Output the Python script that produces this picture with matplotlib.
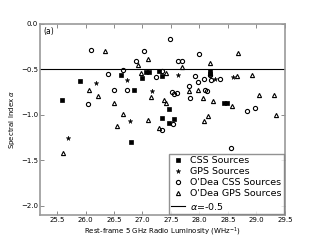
import matplotlib
matplotlib.use("Agg")
import matplotlib.pyplot as plt

# CSS Sources (filled squares)
css_x = [25.59, 25.90, 26.63, 26.85, 27.00, 27.06, 27.12, 27.29, 27.34, 27.46,
         27.34, 27.55, 27.47, 26.80, 28.18, 28.18, 28.43, 28.48]
css_y = [-0.835, -0.63, -0.56, -0.725, -0.59, -0.53, -0.53, -0.52, -0.57, -0.93,
         -1.03, -1.04, -1.09, -1.30, -0.52, -0.545, -0.865, -0.865]

# GPS Sources (stars)
gps_x = [26.18, 26.72, 27.17, 27.63, 28.28, 28.59, 26.78, 25.69]
gps_y = [-0.645, -0.615, -0.74, -0.56, -0.61, -0.58, -1.07, -1.25]

# O'Dea CSS Sources (open circles)
ocss_x = [26.09, 27.03, 27.49, 28.00, 26.88, 27.63, 27.70, 26.65, 26.40, 27.24,
          27.35, 27.93, 28.08, 28.20, 28.36, 27.98, 27.82, 27.51, 27.55, 27.60,
          27.84, 28.10, 28.14, 28.84, 28.97, 27.54, 27.34, 26.04, 26.50, 26.72,
          28.55, 28.18]
ocss_y = [-0.29, -0.30, -0.16, -0.33, -0.41, -0.41, -0.41, -0.51, -0.55, -0.58,
          -0.52, -0.57, -0.60, -0.62, -0.60, -0.64, -0.68, -0.75, -0.77, -0.76,
          -0.81, -0.73, -0.74, -0.96, -0.92, -1.10, -1.17, -0.88, -0.725, -0.725,
          -1.36, -0.565]

# O'Dea GPS Sources (open triangles)
ogps_x = [26.34, 27.10, 28.18, 27.70, 26.93, 26.98, 27.41, 28.66, 28.93, 28.67,
          27.82, 27.98, 28.06, 27.15, 27.38, 27.42, 28.24, 28.58, 29.05, 29.31,
          29.34, 27.10, 28.15, 28.08, 27.29, 26.06, 26.22, 26.50, 26.66, 26.55,
          25.60]
ogps_y = [-0.30, -0.385, -0.425, -0.47, -0.45, -0.535, -0.54, -0.57, -0.56, -0.315,
          -0.74, -0.73, -0.81, -0.80, -0.83, -0.865, -0.85, -0.90, -0.78, -0.78,
          -1.00, -1.05, -1.01, -1.07, -1.14, -0.725, -0.79, -0.87, -0.99, -1.12,
          -1.42]

alpha_line = -0.5
x_ticks = [25.5, 26.0, 26.5, 27.0, 27.5, 28.0, 28.5, 29.0, 29.5]
y_ticks = [0.0, -0.5, -1.0, -1.5, -2.0]

fig = plt.figure(figsize=(3.2, 2.4), dpi=100)
ax = fig.add_axes([0.125, 0.104, 0.765, 0.796])

ms = 3.0
ax.plot(css_x, css_y, 's', color='black', markersize=ms, markeredgewidth=0.5,
        label='CSS Sources')
ax.plot(gps_x, gps_y, '*', color='black', markersize=ms + 0.5, markeredgewidth=0.3,
        label='GPS Sources')
ax.plot(ocss_x, ocss_y, 'o', markerfacecolor='none', markeredgecolor='black',
        markersize=ms, markeredgewidth=0.8, label="O'Dea CSS Sources")
ax.plot(ogps_x, ogps_y, '^', markerfacecolor='none', markeredgecolor='black',
        markersize=ms, markeredgewidth=0.8, label="O'Dea GPS Sources")
ax.axhline(alpha_line, color='black', linewidth=0.8, label=r'$\alpha$=-0.5')

ax.set_xlim(25.2, 29.5)
ax.set_ylim(-2.1, 0.0)
ax.set_xticks(x_ticks)
ax.set_yticks(y_ticks)
ax.set_xticklabels(['%.1f' % v for v in x_ticks])
ax.set_yticklabels([('%.1f' % v).replace('-', '\u2212') for v in y_ticks])

for s in ax.spines.values():
    s.set_color('#999999')
    s.set_linewidth(1.2)
ax.tick_params(direction='in', top=True, right=True, length=3, width=0.6,
               color='#777777', labelsize=5, pad=1.5)

ax.set_xlabel(r'Rest-frame 5 GHz Radio Luminosity (WHz$^{-1}$)', fontsize=5, labelpad=1.5)
ax.set_ylabel(r'Spectral Index $\alpha$', fontsize=5, labelpad=3)
ax.text(0.012, 0.985, '(a)', transform=ax.transAxes, fontsize=5.5, va='top', ha='left')

leg = ax.legend(loc='lower right', fontsize=6.8, numpoints=1, frameon=True,
                fancybox=False, borderaxespad=0.12, handlelength=1.5,
                labelspacing=0.22, borderpad=0.25, handletextpad=0.5)
leg.get_frame().set_edgecolor('#777777')
leg.get_frame().set_linewidth(1.0)

fig.savefig('out.png', dpi=100)
